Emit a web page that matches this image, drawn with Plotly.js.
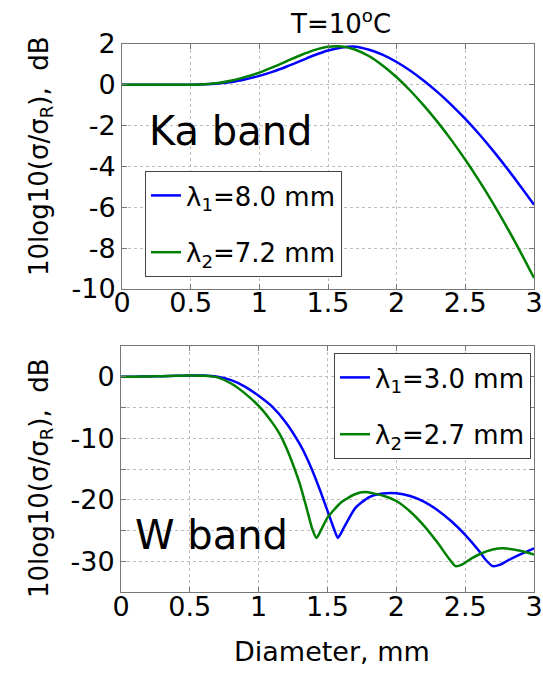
<!DOCTYPE html>
<html>
<head>
<meta charset="utf-8">
<script src="https://cdn.plot.ly/plotly-3.0.1.min.js"></script>
<style>html,body{margin:0;padding:0;background:#fff;} #chart{width:543px;height:673px;}</style>
</head>
<body>
<div id="chart"></div>
<script>
// ---- Ka band (top) ----
const kaDiameter = [0,0.1,0.2,0.3,0.4,0.5,0.6,0.7,0.8,0.9,1.0,1.1,1.2,1.3,1.4,1.5,1.6,1.7,1.8,1.9,2.0,2.1,2.2,2.3,2.4,2.5,2.6,2.7,2.8,2.9,3.0];
const kaLambda1 = [0,0,0,0,0,0.01,0.03,0.07,0.14,0.27,0.44,0.65,0.9,1.17,1.45,1.68,1.83,1.87,1.72,1.47,1.12,0.69,0.19,-0.37,-0.99,-1.67,-2.41,-3.21,-4.06,-4.95,-5.87];
const kaLambda2 = [0,0,0,0,0,0,0.03,0.09,0.21,0.39,0.6,0.87,1.16,1.45,1.7,1.86,1.88,1.72,1.40,0.94,0.37,-0.29,-1.03,-1.84,-2.72,-3.67,-4.69,-5.78,-6.94,-8.17,-9.46];
const kaNames = ["λ<sub>1</sub>=8.0 mm", "λ<sub>2</sub>=7.2 mm"];

// ---- W band (bottom) ----
const wDiameter1 = [0,0.1,0.2,0.3,0.4,0.5,0.6,0.7,0.8,0.9,1.0,1.1,1.2,1.3,1.35,1.4,1.45,1.5,1.55,1.575,1.62,1.7,1.8,1.9,2.0,2.1,2.2,2.3,2.4,2.5,2.6,2.65,2.7,2.75,2.8,2.9,3.0];
const wLambda1 = [0,0.02,0.05,0.1,0.15,0.2,0.2,0.0,-0.55,-1.6,-3.1,-4.9,-7.5,-11.0,-13.2,-15.8,-18.7,-21.8,-24.9,-26.2,-24.5,-21.4,-19.6,-19.0,-18.95,-19.4,-20.3,-21.7,-23.5,-25.7,-28.3,-29.8,-30.8,-30.6,-30.0,-28.9,-27.9];
const wDiameter2 = [0,0.1,0.2,0.3,0.4,0.5,0.6,0.7,0.8,0.9,1.0,1.1,1.15,1.2,1.25,1.3,1.35,1.39,1.42,1.46,1.5,1.6,1.7,1.77,1.9,2.0,2.1,2.2,2.3,2.38,2.43,2.48,2.55,2.6,2.7,2.78,2.9,3.0];
const wLambda2 = [0,0.02,0.05,0.1,0.15,0.2,0.15,-0.1,-1.1,-2.7,-4.75,-7.5,-9.2,-11.5,-14.3,-17.5,-21.5,-24.8,-26.2,-24.6,-22.9,-20.4,-19.1,-18.75,-19.3,-20.2,-21.9,-24.2,-27.0,-29.5,-30.8,-30.5,-29.5,-28.9,-28.1,-27.9,-28.3,-28.9];
const wNames = ["λ<sub>1</sub>=3.0 mm", "λ<sub>2</sub>=2.7 mm"];

// ---- ticks ----
const xTickVals = [0,0.5,1,1.5,2,2.5,3];
const xTickText = ["0","0.5","1","1.5","2","2.5","3"];
const kaYTickVals = [2,0,-2,-4,-6,-8,-10];
const kaYTickText = ["2","0","-2","-4","-6","-8","-10"];
const wYTickVals = [0,-10,-20,-30];
const wYTickText = ["0","-10","-20","-30"];
const wYMinorVals = [-5,-15,-25];

const W = 543, H = 673;
const px = v => v / W;
const py = v => 1 - v / H;

const BLUE = "#0000ff", GREEN = "#008000";
const FONT = "DejaVu Sans";

const traces = [
  {x: kaDiameter, y: kaLambda1, name: kaNames[0], type: "scatter", mode: "lines", line: {color: BLUE, width: 2.5, shape: "spline", smoothing: 0.8}, xaxis: "x", yaxis: "y", legend: "legend", legendgroup: "a1"},
  {x: kaDiameter, y: kaLambda2, name: kaNames[1], type: "scatter", mode: "lines", line: {color: GREEN, width: 2.5, shape: "spline", smoothing: 0.8}, xaxis: "x", yaxis: "y", legend: "legend", legendgroup: "a2"},
  {x: wDiameter1, y: wLambda1, name: wNames[0], type: "scatter", mode: "lines", line: {color: BLUE, width: 2.5, shape: "spline", smoothing: 0.6}, xaxis: "x2", yaxis: "y2", legend: "legend2", legendgroup: "b1"},
  {x: wDiameter2, y: wLambda2, name: wNames[1], type: "scatter", mode: "lines", line: {color: GREEN, width: 2.5, shape: "spline", smoothing: 0.6}, xaxis: "x2", yaxis: "y2", legend: "legend2", legendgroup: "b2"}
];

const axCommon = {
  showline: true, linecolor: "#777", linewidth: 1, mirror: "ticks",
  ticks: "inside", ticklen: 5, tickcolor: "#777",
  showgrid: true, gridcolor: "#bdbdbd", griddash: "dot", gridwidth: 1,
  zeroline: false, automargin: false, ticklabeloverflow: "allow",
  tickfont: {family: FONT, size: 27, color: "#000"}
};

const legendCommon = {
  bgcolor: "#fff", bordercolor: "#444", borderwidth: 1,
  font: {family: FONT, size: 26, color: "#000"},
  traceorder: "grouped", tracegroupgap: 20,
  xanchor: "left", yanchor: "top", itemwidth: 30
};

const layout = {
  width: W, height: H,
  margin: {l: 0, r: 0, t: 0, b: 0},
  paper_bgcolor: "#fff", plot_bgcolor: "#fff",
  showlegend: true,
  xaxis: Object.assign({}, axCommon, {domain: [px(122), px(534)], range: [0, 3], tickvals: xTickVals, ticktext: xTickText, anchor: "y", ticklabelstandoff: -10}),
  yaxis: Object.assign({}, axCommon, {domain: [py(289), py(44)], range: [-10, 2], tickvals: kaYTickVals, ticktext: kaYTickText, anchor: "x"}),
  xaxis2: Object.assign({}, axCommon, {domain: [px(121), px(534)], range: [0, 3], tickvals: xTickVals, ticktext: xTickText, anchor: "y2", ticklabelstandoff: -9}),
  yaxis2: Object.assign({}, axCommon, {domain: [py(592), py(346)], range: [-35, 5], tickvals: wYTickVals, ticktext: wYTickText, anchor: "x2",
    minor: {tickvals: wYMinorVals, showgrid: true, gridcolor: "#bdbdbd", griddash: "dot", gridwidth: 1, ticks: "inside", ticklen: 5, tickcolor: "#777"}}),
  legend: Object.assign({}, legendCommon, {x: px(145), y: py(171)}),
  legend2: Object.assign({}, legendCommon, {x: px(334), y: py(353)}),
  annotations: [
    {text: "T=10<sup>o</sup>C", xref: "paper", yref: "paper", x: px(340), y: py(22), xanchor: "center", yanchor: "middle", showarrow: false, font: {family: FONT, size: 26, color: "#000"}},
    {text: "Ka band", xref: "paper", yref: "paper", x: px(147), y: py(131), xanchor: "left", yanchor: "middle", showarrow: false, font: {family: FONT, size: 40, color: "#000"}},
    {text: "W band", xref: "paper", yref: "paper", x: px(133), y: py(535), xanchor: "left", yanchor: "middle", showarrow: false, font: {family: FONT, size: 40, color: "#000"}},
    {text: "10log10(σ/σ<sub>R</sub>),\u00a0\u00a0dB", xref: "paper", yref: "paper", x: px(40), y: py(156), xanchor: "center", yanchor: "middle", textangle: -90, showarrow: false, font: {family: FONT, size: 26, color: "#000"}},
    {text: "10log10(σ/σ<sub>R</sub>),\u00a0\u00a0dB", xref: "paper", yref: "paper", x: px(40), y: py(478), xanchor: "center", yanchor: "middle", textangle: -90, showarrow: false, font: {family: FONT, size: 26, color: "#000"}},
    {text: "Diameter, mm", xref: "paper", yref: "paper", x: px(332), y: py(651), xanchor: "center", yanchor: "middle", showarrow: false, font: {family: FONT, size: 27, color: "#000"}}
  ]
};

Plotly.newPlot("chart", traces, layout, {displayModeBar: false, staticPlot: true});
</script>
</body>
</html>
